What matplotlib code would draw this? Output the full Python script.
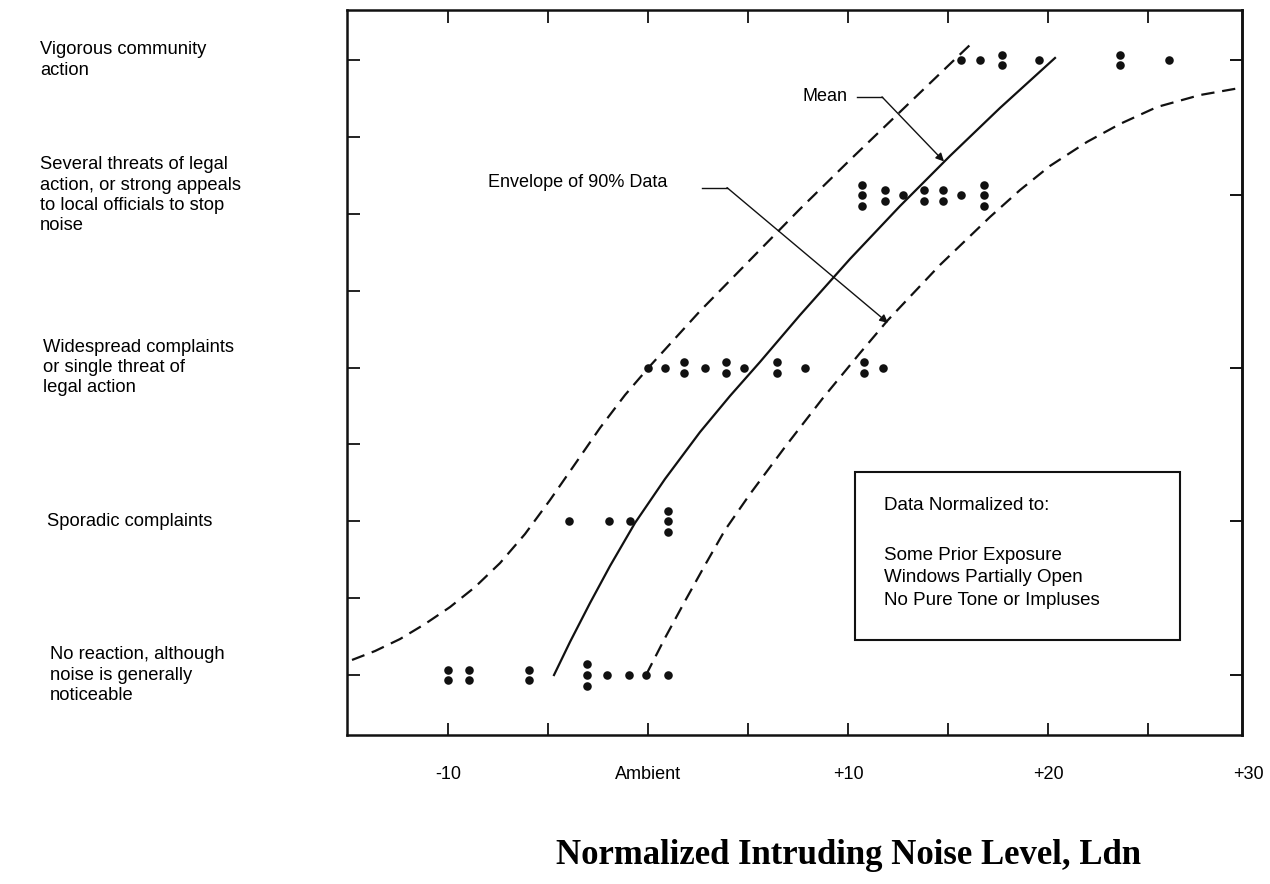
import matplotlib.pyplot as plt
import matplotlib.transforms as mtransforms
from matplotlib.patches import Rectangle
import numpy as np

plt.rcParams['font.family'] = ['Liberation Sans', 'DejaVu Sans']

# reaction categories (bottom to top) and where they sit on the y axis
reactions = [
    "No reaction, although\nnoise is generally\nnoticeable",
    "Sporadic complaints",
    "Widespread complaints\nor single threat of\nlegal action",
    "Several threats of legal\naction, or strong appeals\nto local officials to stop\nnoise",
    "Vigorous community\naction",
]
level_y = [0, 1, 2, 3.12, 4]

# observed cases: normalized Ldn and number of cases at that value
obs_x = [
    [-10.0, -8.95, -5.95, -3.05, -2.05, -0.95, -0.1, 1.0],
    [-3.95, -1.95, -0.9, 1.0],
    [0.0, 0.85, 1.8, 2.85, 3.9, 4.8, 6.45, 7.85, 10.8, 11.75],
    [10.7, 11.85, 12.75, 13.8, 14.75, 15.65, 16.8],
    [15.65, 16.6, 17.7, 19.55, 23.6, 26.05],
]
obs_n = [
    [2, 2, 2, 3, 1, 1, 1, 1],
    [1, 1, 1, 3],
    [1, 1, 2, 1, 2, 1, 2, 1, 2, 1],
    [3, 2, 1, 2, 2, 1, 3],
    [1, 1, 2, 1, 2, 1],
]

# mean curve
mean_x = [-4.7, -3.9, -2.9, -1.9, -0.65, 0.85, 2.6, 4.1, 5.6, 7.6, 10.1, 12.6, 15.1, 17.6, 20.35]
mean_y = [0.0, 0.215, 0.468, 0.709, 0.989, 1.275, 1.580, 1.815, 2.036, 2.341, 2.706, 3.050,
          3.376, 3.688, 4.013]

# 90% envelope, upper and lower
upper_x = [-14.8, -13.65, -12.4, -11.15, -9.9, -8.65, -7.4, -6.15, -4.9, -3.65, -2.4, -1.15,
           0.1, 2.6, 5.1, 7.6, 10.1, 12.6, 15.1, 16.1]
upper_y = [0.098, 0.156, 0.234, 0.332, 0.442, 0.572, 0.728, 0.917, 1.138, 1.372, 1.607, 1.821,
           2.010, 2.367, 2.699, 3.031, 3.350, 3.662, 3.974, 4.098]
lower_x = [-0.1, 0.85, 1.85, 2.85, 3.85, 5.1, 6.85, 8.75, 10.6, 12.0, 14.6, 17.1, 18.6, 20.1,
           21.95, 23.6, 25.45, 27.6, 29.6]
lower_y = [0.0, 0.241, 0.481, 0.715, 0.943, 1.177, 1.483, 1.802, 2.094, 2.309, 2.667, 2.979,
           3.154, 3.311, 3.467, 3.584, 3.694, 3.772, 3.818]

xlabel_pos = [-10, 0, 10, 20, 30]
xlabel_text = ['-10', 'Ambient', '+10', '+20', '+30']
note_lines = ["Some Prior Exposure", "Windows Partially Open", "No Pure Tone or Impluses"]

W, H = 1270, 884
fig = plt.figure(figsize=(W / 100, H / 100), dpi=100)
ax = fig.add_axes([347 / W, 1 - 735 / H, (1242 - 347) / W, (735 - 10) / H])
ax.set_xlim(-15.05, 29.7)
ax.set_ylim(-0.39, 4.325)

# dots, stacked when several cases share a value
px, py = [], []
for lev, xs, ns in zip(level_y, obs_x, obs_n):
    for x, n in zip(xs, ns):
        for k in range(n):
            px.append(x)
            py.append(lev + (k - (n - 1) / 2) * 0.07)
ax.scatter(px, py, s=38, color='#111111', zorder=3, linewidths=0)

ax.plot(mean_x, mean_y, color='#111111', lw=1.6)
dash = (0, (6, 3.5))
ax.plot(upper_x, upper_y, color='#111111', lw=1.6, linestyle=dash)
ax.plot(lower_x, lower_y, color='#111111', lw=1.6, linestyle=dash)

# leaders
ax.text(10.0, 3.76, "Mean", ha='right', va='center', fontsize=13)
ax.plot([10.45, 11.7], [3.76, 3.76], color='#111111', lw=1.0)
ax.annotate('', xy=(14.8, 3.34), xytext=(11.7, 3.76),
            arrowprops=dict(arrowstyle='-|>', color='#111111', lw=1.0, shrinkA=0, shrinkB=0,
                            mutation_scale=12))
ax.text(0.95, 3.2, "Envelope of 90% Data", ha='right', va='center', fontsize=13)
ax.plot([2.7, 3.95], [3.17, 3.17], color='#111111', lw=1.0)
ax.annotate('', xy=(12.0, 2.29), xytext=(3.95, 3.17),
            arrowprops=dict(arrowstyle='-|>', color='#111111', lw=1.0, shrinkA=0, shrinkB=0,
                            mutation_scale=12))

# note box
ax.add_patch(Rectangle((0.568, 0.131), 0.363, 0.232, transform=ax.transAxes,
                       fill=False, lw=1.5, edgecolor='#111111'))
ax.text(0.6, 0.317, "Data Normalized to:", transform=ax.transAxes, va='center', fontsize=13.5)
for i, line in enumerate(note_lines):
    ax.text(0.6, 0.248 - i * 0.031, line, transform=ax.transAxes, va='center', fontsize=13.5)

# axes frame and ticks
for s in ax.spines.values():
    s.set_linewidth(1.8)
    s.set_color('#111111')
ax.set_xticks(np.arange(-10, 30, 5))
ax.set_yticks(np.arange(0, 4.5, 0.5) * 1.0)
ax.tick_params(direction='in', length=9, width=1.3, top=True, right=False,
               labelbottom=False, labelleft=False, colors='#111111')
sec = ax.secondary_yaxis('right')
sec.set_yticks(level_y)
sec.tick_params(direction='in', length=9, width=1.3, labelright=False)
sec.spines['right'].set_linewidth(1.8)

for x, t in zip(xlabel_pos, xlabel_text):
    ax.text(x, -0.055, t, transform=ax.get_xaxis_transform(), ha='center', va='center',
            fontsize=13, clip_on=False)

tr = mtransforms.blended_transform_factory(fig.transFigure, ax.transData)
label_x = [50, 47, 43, 40, 40]
for lev, txt, lx in zip(level_y, reactions, label_x):
    fig.text(lx / W, lev, txt, transform=tr, ha='left', va='center', fontsize=13.2,
             linespacing=1.25)

fig.text(848 / W, 1 - 855 / H, "Normalized Intruding Noise Level, Ldn", ha='center', va='center',
         fontsize=25, fontweight='bold', family=['Liberation Serif', 'DejaVu Serif'])

fig.savefig('out.png', dpi=100, facecolor='white')
